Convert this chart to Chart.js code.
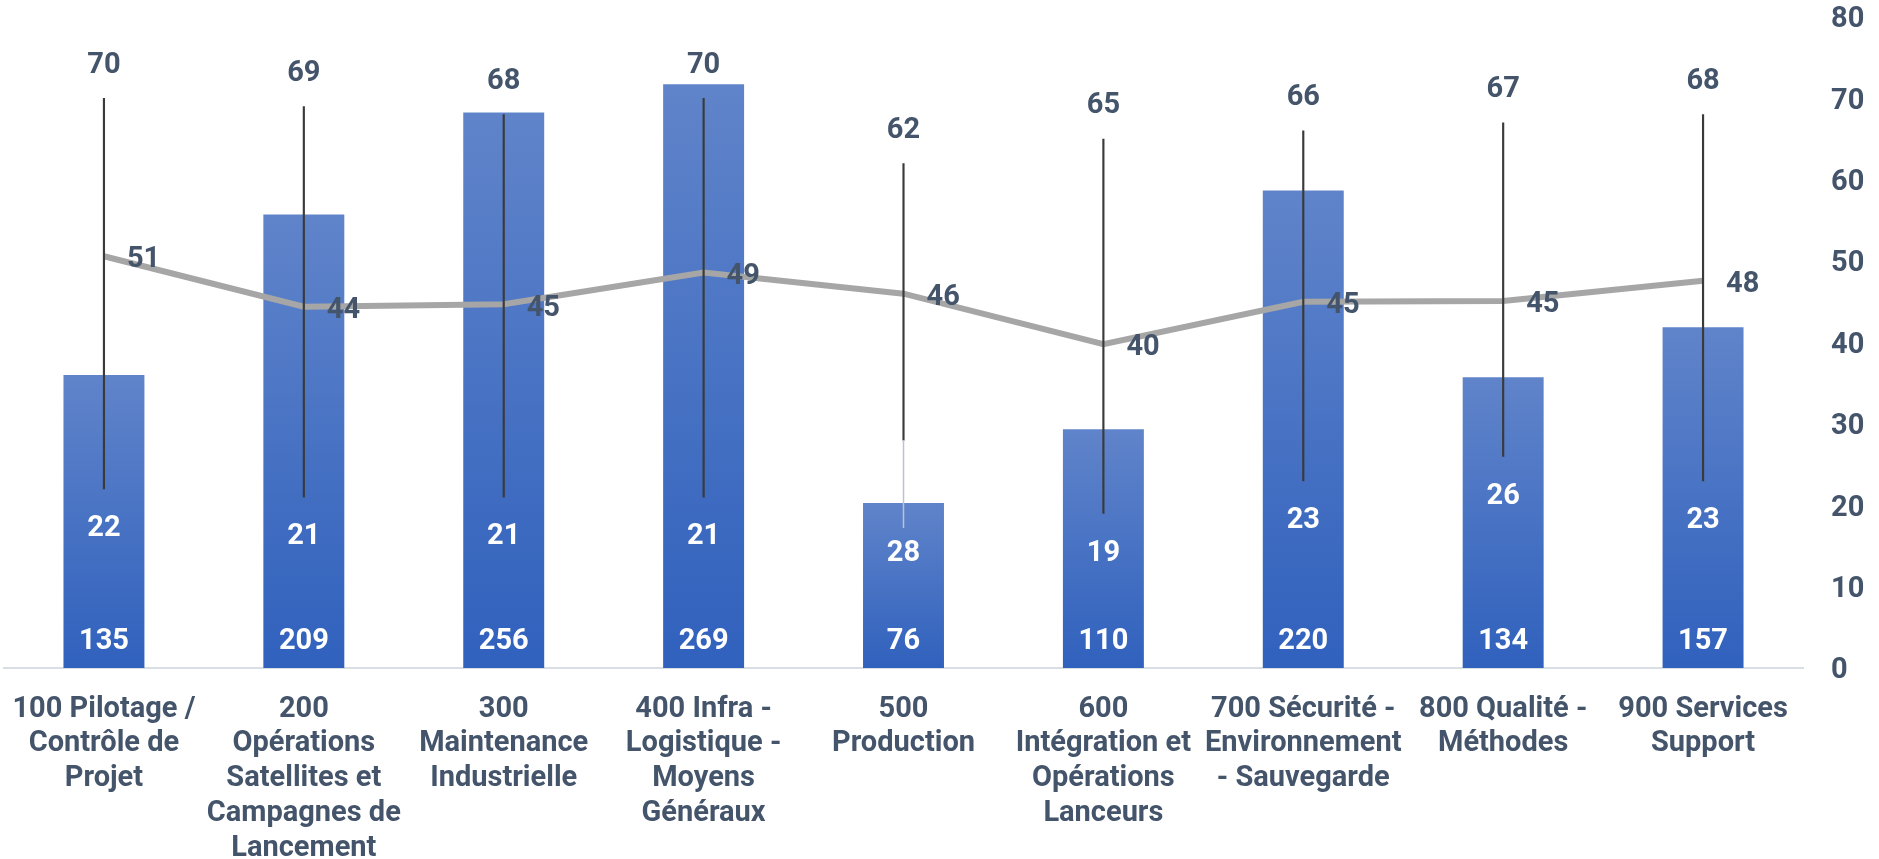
<!DOCTYPE html>
<html><head><meta charset="utf-8">
<script src="https://cdn.jsdelivr.net/npm/chart.js@4.4.1/dist/chart.umd.min.js"></script>
<style>html,body{margin:0;padding:0;background:#fff;}#wrap{width:1879px;height:859px;position:relative;}</style>
</head><body><div id="wrap"><canvas id="c"></canvas></div>
<script>
const categories = [
  ["100 Pilotage /","Contrôle de","Projet"],
  ["200","Opérations","Satellites et","Campagnes de","Lancement"],
  ["300","Maintenance","Industrielle"],
  ["400 Infra -","Logistique -","Moyens","Généraux"],
  ["500","Production"],
  ["600","Intégration et","Opérations","Lanceurs"],
  ["700 Sécurité -","Environnement","- Sauvegarde"],
  ["800 Qualité -","Méthodes"],
  ["900 Services","Support"]
];
const headcounts = [135,209,256,269,76,110,220,134,157];
const averages = [50.6,44.4,44.7,48.6,46.0,39.8,45.0,45.1,47.6];
const minimums = [22,21,21,21,28,19,23,26,23];
const maximums = [70,69,68,70,62,65,66,67,68];
const rightAxisMax = 80;
const leftAxisMax = 300;

const DARK = '#44546A';
const FONT = 'Roboto';
const TEXT_DY = 3;

const labelPlugin = {
  id: 'customLabels',
  afterDatasetsDraw(chart) {
    const ctx = chart.ctx;
    const y1 = chart.scales.y1;
    const barMeta = chart.getDatasetMeta(0);
    const lineMeta = chart.getDatasetMeta(1);
    ctx.save();
    ctx.font = 'bold 29px ' + FONT;
    ctx.textBaseline = 'middle';
    barMeta.data.forEach((bar, i) => {
      const x = bar.x;
      ctx.textAlign = 'center';
      ctx.fillStyle = '#ffffff';
      ctx.fillText(String(headcounts[i]), x, bar.base - 29 + TEXT_DY);
      const topY = y1.getPixelForValue(maximums[i]);
      ctx.fillStyle = DARK;
      ctx.fillText(String(maximums[i]), x, topY - 36 + TEXT_DY);
      const minY = y1.getPixelForValue(minimums[i]);
      let ly = minY + 37;
      if (ly - 15 < bar.y) {
        ly = bar.y + 48;
        ctx.strokeStyle = '#b9c3d3';
        ctx.lineWidth = 1.5;
        ctx.beginPath();
        ctx.moveTo(x, minY);
        ctx.lineTo(x, ly - 23);
        ctx.stroke();
      }
      ctx.fillStyle = '#ffffff';
      ctx.fillText(String(minimums[i]), x, ly + TEXT_DY);
      const pt = lineMeta.data[i];
      ctx.fillStyle = DARK;
      ctx.textAlign = 'left';
      ctx.fillText(String(Math.round(averages[i])), pt.x + 23, pt.y + 1 + TEXT_DY);
    });
    ctx.restore();
  }
};

new Chart(document.getElementById('c'), {
  data: {
    labels: categories,
    datasets: [
      {
        type: 'bar',
        data: headcounts,
        yAxisID: 'y',
        order: 3,
        grouped: false,
        barPercentage: 0.45,
        categoryPercentage: 0.9,
        backgroundColor: (c) => {
          const chart = c.chart;
          if (!chart.chartArea || c.type !== 'data' || !chart.scales.y) return '#4a72c4';
          const ys = chart.scales.y;
          const top = ys.getPixelForValue(c.raw), bot = ys.getPixelForValue(0);
          const g = chart.ctx.createLinearGradient(0, top, 0, bot);
          g.addColorStop(0, '#6084ca');
          g.addColorStop(1, '#3061bd');
          return g;
        },
        borderWidth: 0
      },
      {
        type: 'line',
        data: averages,
        yAxisID: 'y1',
        order: 2,
        borderColor: '#a6a6a6',
        borderWidth: 6,
        pointRadius: 0,
        tension: 0,
        fill: false
      },
      {
        type: 'bar',
        data: minimums.map((m, i) => [m, maximums[i]]),
        yAxisID: 'y1',
        order: 1,
        grouped: false,
        barThickness: 1.5,
        backgroundColor: '#3a3a3a',
        borderWidth: 0
      }
    ]
  },
  options: {
    responsive: true,
    maintainAspectRatio: false,
    animation: false,
    devicePixelRatio: 1,
    layout: { padding: { left: 4, right: 15, top: 0, bottom: 0 } },
    plugins: { legend: { display: false }, tooltip: { enabled: false } },
    scales: {
      x: {
        offset: true,
        grid: { display: false, drawTicks: false },
        border: { display: true, color: '#d9dee5', width: 2 },
        ticks: {
          color: DARK,
          font: { family: FONT, weight: 'bold', size: 29, lineHeight: 1.2 },
          padding: 24,
          autoSkip: false,
          maxRotation: 0,
          minRotation: 0
        },
        afterFit: (s) => { s.height = 191; s.paddingLeft = 0; s.paddingRight = 0; }
      },
      y: {
        display: false,
        min: 0,
        max: leftAxisMax
      },
      y1: {
        position: 'right',
        min: 0,
        max: rightAxisMax,
        grid: { display: false, drawTicks: false },
        border: { display: false },
        ticks: {
          stepSize: 10,
          color: DARK,
          padding: 28,
          labelOffset: 3,
          font: { family: FONT, weight: 'bold', size: 29 }
        },
        afterFit: (s) => { s.width = 61; s.paddingTop = 17; s.paddingBottom = 0; }
      }
    }
  },
  plugins: [labelPlugin]
});
</script>
</body></html>
